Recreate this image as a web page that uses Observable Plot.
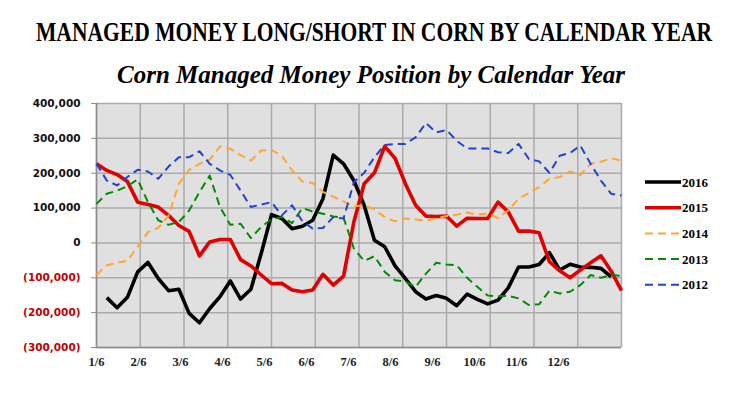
<!DOCTYPE html>
<html><head><meta charset="utf-8">
<script src="https://cdn.jsdelivr.net/npm/d3@7"></script>
<script src="https://cdn.jsdelivr.net/npm/@observablehq/plot@0.6"></script>
<style>
body{margin:0;background:#fff;}
#wrap{position:relative;width:730px;height:393px;overflow:hidden;background:#fff;}
#head{position:absolute;left:0;top:0;}
#chart{position:absolute;left:0;top:90px;}
#legend{position:absolute;left:636px;top:168px;}
</style></head><body>
<div id="wrap">
<svg id="head" width="730" height="90">
  <g transform="translate(374,41) scale(1,1.17)">
  <text x="0" y="0" text-anchor="middle" textLength="676" lengthAdjust="spacingAndGlyphs" font-family="Liberation Serif" font-weight="bold" font-size="23" fill="#000">MANAGED MONEY LONG/SHORT IN CORN BY CALENDAR YEAR</text>
  </g>
  <text x="371" y="83" text-anchor="middle" textLength="508" lengthAdjust="spacingAndGlyphs" font-family="Liberation Serif" font-weight="bold" font-style="italic" font-size="25" fill="#000">Corn Managed Money Position by Calendar Year</text>
</svg>
<div id="chart"></div>
<svg id="legend" width="94" height="130"></svg>
</div>
<script>
const years = ["2016", "2015", "2014", "2013", "2012"];
const xTickLabels = ["1/6","2/6","3/6","4/6","5/6","6/6","7/6","8/6","9/6","10/6","11/6","12/6"];
const yTicks = [-300000,-200000,-100000,0,100000,200000,300000,400000];

const s2016 = [null,-157000,-186000,-156000,-83000,-56000,-102000,-137000,-133000,-202000,-229000,-188000,-154000,-109000,-161000,-133000,-30000,81000,70000,41000,48000,65000,127000,252000,227000,179000,108000,8000,-11000,-66000,-102000,-140000,-161000,-151000,-159000,-180000,-147000,-162000,-175000,-164000,-129000,-69000,-69000,-62000,-28000,-78000,-61000,-69000,-70000,-73000,-97000,null];
const s2015 = [227000,208000,196000,176000,117000,110000,103000,79000,50000,33000,-37000,3000,10000,10000,-48000,-66000,-92000,-117000,-116000,-135000,-140000,-135000,-90000,-121000,-95000,60000,170000,201000,277000,243000,170000,108000,77000,76000,77000,48000,71000,70000,70000,117000,89000,34000,34000,29000,-54000,-80000,-100000,-78000,-57000,-37000,-81000,-137000];
const s2014 = [-92000,-64000,-57000,-51000,-11000,31000,43000,78000,170000,210000,227000,239000,277000,270000,252000,236000,265000,267000,250000,208000,176000,172000,146000,133000,119000,105000,108000,96000,74000,62000,70000,67000,64000,70000,77000,81000,87000,81000,84000,71000,93000,127000,143000,160000,184000,189000,205000,195000,227000,233000,243000,236000];
const s2013 = [112000,141000,150000,163000,182000,117000,65000,52000,60000,93000,146000,193000,103000,52000,55000,14000,46000,68000,74000,57000,100000,90000,84000,76000,72000,-16000,-52000,-38000,-83000,-107000,-111000,-126000,-88000,-57000,-62000,-64000,-100000,-126000,-151000,-153000,-152000,-159000,-178000,-176000,-137000,-145000,-140000,-121000,-92000,-100000,-92000,-95000];
const s2012 = [227000,179000,165000,189000,210000,205000,184000,219000,246000,246000,263000,227000,208000,195000,150000,103000,110000,117000,79000,108000,62000,41000,43000,74000,70000,174000,201000,246000,281000,284000,284000,303000,344000,317000,324000,293000,271000,271000,271000,260000,258000,284000,241000,234000,201000,250000,258000,279000,227000,179000,141000,136000];

const seriesValues = [s2016, s2015, s2014, s2013, s2012];
const colors = ["#000000", "#e00000", "#ffa530", "#008c00", "#2242d4"];
const widths = [3.6, 3.6, 2, 2, 2];
const dashes = [null, null, "8,5", "8,5", "8,5"];

const nWeeks = 52;
const lastWeek = nWeeks - 1;
const gridWeeks = d3.range(13).map(i => i * lastWeek / 12);
const labelWeeks = xTickLabels.map((_, i) => i * lastWeek / 12.5);
const labelRows = xTickLabels.map((t, i) => ({t, w: labelWeeks[i]}));

const fmt = d3.format(",");
const yfmt = d => d < 0 ? `(${fmt(-d)})` : fmt(d);

const lineMarks = years.map((yr, k) => {
  const rows = [];
  seriesValues[k].forEach((v, i) => { if (v != null) rows.push({week: i, value: v}); });
  return Plot.line(rows, {x: "week", y: "value", stroke: colors[k], strokeWidth: widths[k],
    strokeDasharray: dashes[k], strokeLinejoin: "round", strokeLinecap: "butt"});
});

const axisStyle = {label: null, tickSize: 5, tickPadding: 11, stroke: "#8c8c8c", fontSize: 10.5, fontWeight: "bold", fontFamily: "DejaVu Sans", tickFormat: yfmt};

const chart = Plot.plot({
  width: 730, height: 303,
  marginLeft: 96, marginRight: 109, marginTop: 13, marginBottom: 46,
  x: {domain: [0, lastWeek], axis: null},
  y: {domain: [-300000, 400000], axis: null},
  style: {background: "transparent", overflow: "visible"},
  marks: [
    Plot.frame({fill: "#e0e0e0", stroke: null}),
    Plot.gridY(yTicks, {stroke: "#ababab", strokeOpacity: 1, strokeWidth: 1.5}),
    Plot.gridX(gridWeeks, {stroke: "#ababab", strokeOpacity: 1, strokeWidth: 1.5}),
    Plot.ruleX([0], {stroke: "#8c8c8c", strokeWidth: 1.5}),
    Plot.ruleY([-300000], {stroke: "#8c8c8c", strokeWidth: 1.5}),
    Plot.axisY(yTicks.filter(d => d >= 0), {...axisStyle, fill: "#111"}),
    Plot.axisY(yTicks.filter(d => d < 0), {...axisStyle, fill: "#c00000"}),
    Plot.text(labelRows, {x: "w", text: "t", frameAnchor: "bottom", dy: 18, fontSize: 12.5, fontWeight: "bold", fontFamily: "Liberation Serif", fill: "#222"}),
    ...lineMarks
  ]
});
document.getElementById("chart").appendChild(chart);

const leg = d3.select("#legend");
years.forEach((yr, k) => {
  const y = 14 + k * 25.7;
  leg.append("line").attr("x1", 9).attr("x2", 45).attr("y1", y).attr("y2", y)
    .attr("stroke", colors[k]).attr("stroke-width", widths[k])
    .attr("stroke-dasharray", dashes[k]);
  leg.append("text").attr("x", 46).attr("y", y).attr("dy", "0.35em")
    .attr("font-family", "Liberation Serif").attr("font-weight", "bold").attr("font-size", 13)
    .attr("fill", "#000").text(yr);
});
</script>
</body></html>
